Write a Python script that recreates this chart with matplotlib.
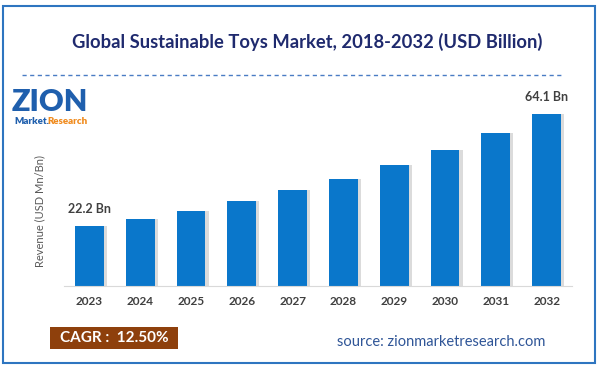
import matplotlib.pyplot as plt
from matplotlib.patches import Rectangle
from matplotlib.lines import Line2D

# chart data
years = ['2023', '2024', '2025', '2026', '2027', '2028', '2029', '2030', '2031', '2032']
revenue = [22.2, 25.0, 28.1, 31.6, 35.6, 40.0, 45.0, 50.7, 57.0, 64.1]
labelled = {0: '22.2 Bn', 9: '64.1 Bn'}

title = 'Global Sustainable Toys Market, 2018-2032 (USD Billion)'
cagr_text = 'CAGR :  12.50%'
source_text = 'source: zionmarketresearch.com'

plt.rcParams['font.family'] = ['Lato', 'DejaVu Sans']

W, H = 599, 368
fig = plt.figure(figsize=(W / 100, H / 100), dpi=100)

def fx(px):
    return px / W

def fy(py):
    return 1 - py / H

# outer blue frame
fig.patches.append(Rectangle((fx(3), fy(363)), fx(592), 357 / H, transform=fig.transFigure,
                             fill=False, edgecolor='#2E75C0', linewidth=1.5))

# title + dashed rule
fig.text(fx(307), fy(42), title, ha='center', va='center', fontsize=13.2,
         fontweight='bold', color='#1F2A6E')
fig.lines.append(Line2D([fx(22), fx(562)], [fy(75), fy(75)], transform=fig.transFigure,
                        color='#4A7CC4', linewidth=1, linestyle=(0, (3, 2.5))))

# logo (text approximation)
fig.text(fx(12), fy(102), 'ZION', ha='left', va='center', fontsize=22,
         fontweight='heavy', color='#1F5FAD')
fig.text(fx(14), fy(122), 'Market.', ha='left', va='center', fontsize=7,
         fontweight='heavy', color='#1F5FAD')
fig.text(fx(47), fy(122), 'Research', ha='left', va='center', fontsize=7,
         fontweight='heavy', color='#F08A1C')

# bars
ax = fig.add_axes([fx(64), fy(286), fx(572) - fx(64), 188 / H])
x = list(range(len(years)))
# soft shadow to the right of each bar
ax.bar([i + 0.06 for i in x], revenue, width=0.57, color='#9A9A9A', alpha=0.35,
       zorder=1)
ax.bar(x, revenue, width=0.57, color='#0A77CB', zorder=2)
ax.set_xlim(-0.5, 9.5)
ax.set_ylim(0, 70)
ax.set_xticks(x)
ax.set_xticklabels(years, fontsize=8.5, fontweight='bold', color='#404040')
ax.set_yticks([])
ax.tick_params(axis='x', length=0, pad=7)
for s in ['top', 'left', 'right']:
    ax.spines[s].set_visible(False)
ax.spines['bottom'].set_color('#D9D9D9')
for i, txt in labelled.items():
    ax.annotate(txt, (i, revenue[i]), xytext=(0, 8), textcoords='offset points',
                ha='center', va='bottom', fontsize=9, fontweight='bold', color='#404040')

fig.text(fx(40), fy(211), 'Revenue (USD Mn/Bn)', rotation=90, ha='center', va='center',
         fontsize=8, color='#595959')

# CAGR box
fig.patches.append(Rectangle((fx(50), fy(349)), fx(128), 22 / H, transform=fig.transFigure,
                             facecolor='#8E400C', edgecolor='none'))
fig.text(fx(114), fy(338), cagr_text, ha='center', va='center', fontsize=11,
         fontweight='bold', color='white')

fig.text(fx(441), fy(342), source_text, ha='center', va='center', fontsize=10.5,
         color='#2F5597')

fig.savefig('out.png', dpi=100)
